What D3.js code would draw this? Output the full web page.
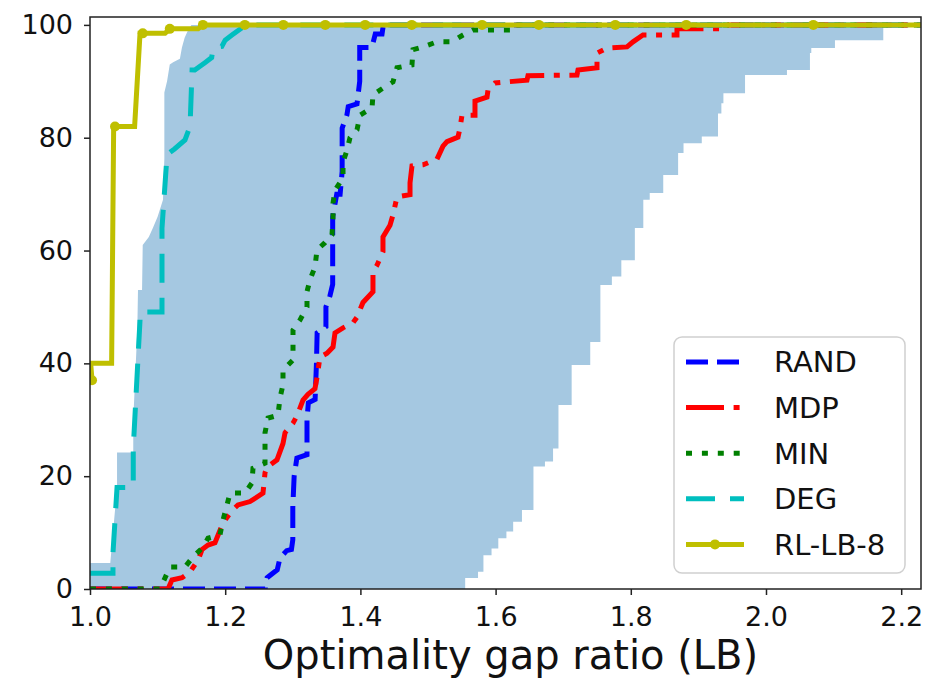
<!DOCTYPE html>
<html lang="en">
<head>
<meta charset="utf-8">
<script src="https://d3js.org/d3.v7.min.js"></script>
<style>
body { margin: 0; background: #fff; }
svg { font-family: "DejaVu Sans", sans-serif; }
</style>
</head>
<body>
<div id="chart"></div>
<script>
// step curves: [optimality gap ratio, % of instances]
var randPts = [[1.0,0],[1.259,0],[1.262,2],[1.277,3.4],[1.281,5.5],[1.291,6.8],[1.298,7],[1.300,8.7],[1.300,14.5],[1.302,20],[1.306,23.2],[1.321,23.8],[1.321,30],[1.323,33],[1.333,33.6],[1.335,40],[1.336,45.4],[1.349,46.5],[1.349,50],[1.355,52],[1.359,54],[1.359,66],[1.365,70],[1.370,70],[1.373,74],[1.373,81.7],[1.380,84],[1.382,85.5],[1.395,86],[1.399,90],[1.399,96],[1.417,96],[1.422,98.4],[1.432,98.4],[1.434,100],[2.23,100]];

var mdpPts = [[1.0,0],[1.1154,0],[1.1213,1.6],[1.1361,2.0],[1.1479,3.0],[1.1598,5.1],[1.1657,7.0],[1.1746,7.8],[1.1849,8.2],[1.1967,11.7],[1.21,13.9],[1.2189,14.9],[1.2367,15.5],[1.2559,17.0],[1.2589,20.6],[1.2618,21.6],[1.2766,22.9],[1.2855,25.8],[1.2885,27.7],[1.3003,29.4],[1.3062,30.7],[1.3151,33.5],[1.3225,34.5],[1.3328,35.5],[1.3358,37.5],[1.3402,41.1],[1.3506,41.8],[1.3595,42.9],[1.3624,45.4],[1.3743,46.3],[1.3891,47.2],[1.395,48.2],[1.4038,50.8],[1.4186,52.7],[1.4186,56.2],[1.4246,57.4],[1.4334,59.8],[1.4334,62.4],[1.4438,64.5],[1.4482,66.3],[1.4541,69.5],[1.4734,69.9],[1.4734,72.0],[1.4763,75.0],[1.4926,75.2],[1.5133,76.2],[1.5222,78.5],[1.5281,79.3],[1.5444,80.1],[1.5473,81.7],[1.5503,84.0],[1.5695,84.0],[1.5695,86.5],[1.5873,87.2],[1.5888,88.5],[1.5991,89.7],[1.6169,89.9],[1.6464,90.2],[1.6479,91.0],[1.7204,91.1],[1.7219,92.0],[1.75,92.4],[1.75,95.0],[1.7648,95.9],[1.7944,96.1],[1.8033,97.0],[1.818,98.2],[1.8683,98.2],[1.8683,99.3],[1.932,99.3],[1.9393,100],[2.23,100]];

var minPts = [[1.0,0],[1.1036,0],[1.1109,1.95],[1.1183,3.9],[1.1405,3.9],[1.1524,5.7],[1.1672,7.4],[1.1746,9.0],[1.1923,9.6],[1.1967,12.2],[1.2027,14.9],[1.2071,17.0],[1.2293,17.0],[1.2396,18.8],[1.2411,21.4],[1.2589,22.3],[1.2589,27.7],[1.2633,30.3],[1.2781,30.8],[1.2811,33.9],[1.2855,36.2],[1.2855,38.8],[1.3003,40.6],[1.3003,45.9],[1.3107,47.7],[1.321,50.0],[1.321,52.7],[1.3254,54.8],[1.3328,57.1],[1.3358,60.1],[1.3476,61.4],[1.358,62.8],[1.3595,65.8],[1.3595,68.4],[1.3624,70.7],[1.3743,72.9],[1.3743,75.7],[1.3802,77.8],[1.3846,80.0],[1.395,81.4],[1.3994,84.0],[1.4172,85.3],[1.4186,87.6],[1.4334,88.8],[1.4482,89.9],[1.4541,92.4],[1.4763,92.9],[1.4778,95.6],[1.4926,96.1],[1.5133,97.0],[1.5355,97.0],[1.5518,98.2],[1.5666,99.1],[1.6213,99.1],[1.6243,100],[2.23,100]];

var degPts = [[1.0,2.8],[1.034,2.8],[1.034,6.4],[1.040,18],[1.064,18],[1.064,25],[1.074,47.7],[1.074,49.1],[1.1065,49.1],[1.1065,64],[1.114,77],[1.125,78],[1.1405,79.6],[1.148,82],[1.151,92],[1.155,92],[1.170,93.3],[1.180,94.2],[1.182,96],[1.195,96.2],[1.2,97.3],[1.21,98.2],[1.225,99.5],[1.234,100],[2.23,100]];

var rlPts = [[1.003,37],[1.001,40],[1.032,40],[1.035,82],[1.066,82],[1.074,98.5],[1.111,98.5],[1.118,99.3],[1.160,99.3],[1.167,100],[2.23,100]];
var rlMarks = [[1.003,37],[1.037,82],[1.078,98.5],[1.118,99.3],[1.167,100],[1.229,100],[1.286,100],[1.348,100],[1.407,100],[1.476,100],[1.580,100],[1.664,100],[1.777,100],[1.882,100],[2.070,100]];

// shaded band: left edge as a polyline, right edge as vertical steps
var shadeLeft = [[1.0,0],[1.0,4.6],[1.030,4.6],[1.040,18],[1.040,24.2],[1.064,24.2],[1.064,30],[1.070,46],[1.071,53],[1.077,53],[1.078,61],[1.087,62.4],[1.093,64],[1.10,66],[1.108,69],[1.110,76.4],[1.110,88],[1.114,90],[1.118,93],[1.123,93.4],[1.133,94],[1.136,96],[1.140,97.7],[1.144,98.8],[1.15,100]];
var shadeRightX   = [1.555,1.574,1.582,1.594,1.604,1.616,1.626,1.639,1.656,1.673,1.685,1.693,1.7125,1.74,1.755,1.772,1.786,1.806,1.8185,1.828,1.848,1.870,1.878,1.905,1.929,1.934,1.937,1.969,2.031,2.065,2.067,2.102,2.1735];
var shadeRightTop = [1.95,3.07,6.0,7.2,9.0,10.2,11.9,14.0,21.7,22.6,24.9,32.6,39.7,43.8,53.9,55.4,58.3,64,69,70.2,73.4,77.3,79,80.2,84.3,86.1,87.9,91.1,92,95,95.9,97.3,100];

var xTicks = [1.0, 1.2, 1.4, 1.6, 1.8, 2.0, 2.2];
var yTicks = [0, 20, 40, 60, 80, 100];

var series = [
  { name: "RAND", pts: randPts, color: "#0000ff", dash: "22,9" },
  { name: "MDP", pts: mdpPts, color: "#ff0000", dash: "38,9.6,6,9.6" },
  { name: "MIN", pts: minPts, color: "#008000", dash: "6,9.9" },
  { name: "DEG", pts: degPts, color: "#00bfbf", dash: "29,15" },
  { name: "RL-LB-8", pts: rlPts, color: "#bfbf00", dash: null }
];

var margin = { top: 17, right: 6, bottom: 92, left: 90 },
    width = 927 - margin.left - margin.right,
    height = 681 - margin.top - margin.bottom;

var svg = d3.select("#chart")
  .append("svg")
  .attr("width", 927)
  .attr("height", 681)
  .append("g")
  .attr("transform", "translate(" + margin.left + "," + margin.top + ")");

var x = d3.scaleLinear().domain([1.0, 2.2293]).range([0, width]);
var y = d3.scaleLinear().domain([0, 101.4]).range([height, 0]);

svg.append("clipPath").attr("id", "plotclip")
  .append("rect").attr("width", width).attr("height", height);

var plot = svg.append("g").attr("clip-path", "url(#plotclip)");

// band
var band = shadeLeft.slice();
var right = [], lo = 0;
shadeRightX.forEach(function(xv, i) {
  right.push([xv, lo]);
  right.push([xv, shadeRightTop[i]]);
  lo = shadeRightTop[i];
});
band = band.concat(right.reverse());

var line = d3.line()
  .x(function(d) { return x(d[0]); })
  .y(function(d) { return y(d[1]); });

plot.append("path")
  .attr("d", line(band) + "Z")
  .attr("fill", "#a5c8e1");

series.forEach(function(s) {
  plot.append("path")
    .attr("d", line(s.pts))
    .attr("fill", "none")
    .attr("stroke", s.color)
    .attr("stroke-width", 5)
    .attr("stroke-dasharray", s.dash)
    .attr("stroke-linejoin", "miter");
});

plot.selectAll(".mark")
  .data(rlMarks)
  .enter().append("circle")
  .attr("cx", function(d) { return x(d[0]); })
  .attr("cy", function(d) { return y(d[1]); })
  .attr("r", 5)
  .attr("fill", "#bfbf00");

// axes
var xAxis = svg.append("g")
  .attr("transform", "translate(0," + height + ")")
  .call(d3.axisBottom(x).tickValues(xTicks).tickFormat(d3.format(".1f")).tickSize(6).tickPadding(12));
var yAxis = svg.append("g")
  .call(d3.axisLeft(y).tickValues(yTicks).tickSize(6).tickPadding(11));

[xAxis, yAxis].forEach(function(a) {
  a.select(".domain").remove();
  a.selectAll("line").attr("stroke", "#222").attr("stroke-width", 1.5);
  a.selectAll("text").style("font-size", "27px").attr("fill", "#111")
    .style("font-family", "DejaVu Sans, sans-serif");
});

svg.append("rect")
  .attr("width", width).attr("height", height)
  .attr("fill", "none").attr("stroke", "#222").attr("stroke-width", 1.5);

svg.append("text")
  .attr("x", width / 2 + 5)
  .attr("y", height + 80)
  .attr("text-anchor", "middle")
  .style("font-size", "40px")
  .attr("fill", "#111")
  .text("Optimality gap ratio (LB)");

// legend
var leg = svg.append("g").attr("transform", "translate(" + (674 - margin.left) + "," + (337 - margin.top) + ")");
leg.append("rect")
  .attr("width", 231).attr("height", 236).attr("rx", 8)
  .attr("fill", "#fff").attr("fill-opacity", 0.8)
  .attr("stroke", "#d0d0d0").attr("stroke-width", 1.5);

var items = leg.selectAll(".item")
  .data(series)
  .enter().append("g")
  .attr("transform", function(d, i) { return "translate(0," + (25 + i * 45.6) + ")"; });

items.append("line")
  .attr("x1", 12).attr("x2", 70)
  .attr("stroke", function(d) { return d.color; })
  .attr("stroke-width", 5)
  .attr("stroke-dasharray", function(d) { return d.dash; });

items.filter(function(d) { return d.name === "RL-LB-8"; })
  .append("circle").attr("cx", 41).attr("r", 5).attr("fill", "#bfbf00");

items.append("text")
  .attr("x", 100)
  .attr("dy", "0.36em")
  .style("font-size", "29px")
  .attr("fill", "#111")
  .text(function(d) { return d.name; });
</script>
</body>
</html>
